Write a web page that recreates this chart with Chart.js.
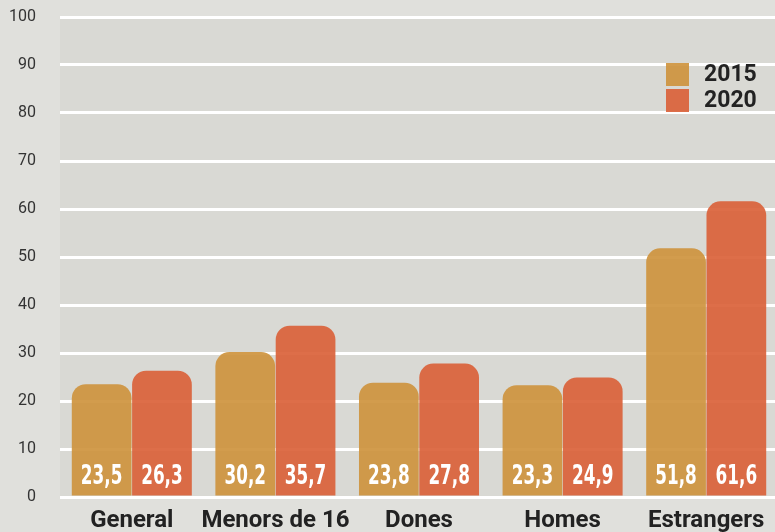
<!DOCTYPE html>
<html>
<head>
<meta charset="utf-8">
<script src="https://cdn.jsdelivr.net/npm/chart.js@4"></script>
<style>
  html, body { margin: 0; padding: 0; background: #e0e0dc; overflow: hidden; }
  #wrap { width: 775px; height: 532px; overflow: hidden; }
</style>
</head>
<body>
<div id="wrap"><canvas id="chart" width="778" height="532"></canvas></div>
<script>
const categories = ["General", "Menors de 16", "Dones", "Homes", "Estrangers"];
const values2015 = [23.5, 30.2, 23.8, 23.3, 51.8];
const values2020 = [26.3, 35.7, 27.8, 24.9, 61.6];
const seriesLabels = ["2015", "2020"];
const yTicks = [0, 10, 20, 30, 40, 50, 60, 70, 80, 90, 100];

const colors = ["rgba(206,148,62,0.92)", "rgba(218,98,58,0.92)"];

// plot background + legend + in-bar labels
const decor = {
  id: "decor",
  beforeDraw(chart) {
    const { ctx, chartArea: a } = chart;
    ctx.save();
    ctx.fillStyle = "#d9d9d4";
    ctx.fillRect(a.left, a.top, a.right - a.left, a.bottom - a.top);
    ctx.restore();
  },
  afterDatasetsDraw(chart) {
    const { ctx } = chart;
    const y0 = chart.scales.y.getPixelForValue(0);
    ctx.save();
    ctx.fillStyle = "#fff";
    ctx.font = "bold 26px 'DejaVu Sans Condensed', sans-serif";
    ctx.textAlign = "center";
    ctx.textBaseline = "middle";
    chart.data.datasets.forEach((ds, i) => {
      chart.getDatasetMeta(i).data.forEach((bar, j) => {
        ctx.save();
        ctx.translate(bar.x, y0 - 20);
        ctx.scale(0.72, 1);
        ctx.fillText(ds.data[j].toFixed(1).replace(".", ","), 0, 0);
        ctx.restore();
      });
    });
    // legend
    ctx.font = "bold 23px Roboto, sans-serif";
    ctx.textAlign = "left";
    chart.data.datasets.forEach((ds, i) => {
      const top = 63 + i * 26;
      ctx.fillStyle = ds.backgroundColor;
      ctx.fillRect(666, top, 23, 23);
      ctx.fillStyle = "#222";
      ctx.fillText(ds.label, 704, top + 12);
    });
    ctx.restore();
  },
};

new Chart(document.getElementById("chart"), {
  type: "bar",
  data: {
    labels: categories,
    datasets: [
      { label: seriesLabels[0], data: values2015, backgroundColor: colors[0] },
      { label: seriesLabels[1], data: values2020, backgroundColor: colors[1] },
    ].map((d) => ({
      ...d,
      categoryPercentage: 0.84,
      barPercentage: 0.99,
      borderRadius: { topLeft: 14, topRight: 14, bottomLeft: 0, bottomRight: 0 },
      borderSkipped: "bottom",
    })),
  },
  options: {
    responsive: false,
    animation: false,
    layout: { padding: { top: 17, right: 0, bottom: 0, left: 0 } },
    plugins: { legend: { display: false }, tooltip: { enabled: false } },
    scales: {
      x: {
        grid: { display: false, drawTicks: false },
        border: { display: false },
        ticks: {
          color: "#222",
          padding: 10,
          maxRotation: 0,
          minRotation: 0,
          autoSkip: false,
          font: { family: "Roboto", size: 24, weight: "bold" },
        },
        afterFit(s) { s.height = 35; s.paddingLeft = 0; s.paddingRight = 0; },
      },
      y: {
        min: 0,
        max: 100,
        afterBuildTicks(s) { s.ticks = yTicks.map((v) => ({ value: v })); },
        grid: { color: "#ffffff", lineWidth: 3, drawTicks: false },
        border: { display: false },
        ticks: {
          color: "#333",
          padding: 24,
          font: { family: "Roboto", size: 16 },
        },
        afterFit(s) { s.width = 60; s.paddingTop = 10; s.paddingBottom = 10; },
      },
    },
  },
  plugins: [decor],
});
</script>
</body>
</html>
